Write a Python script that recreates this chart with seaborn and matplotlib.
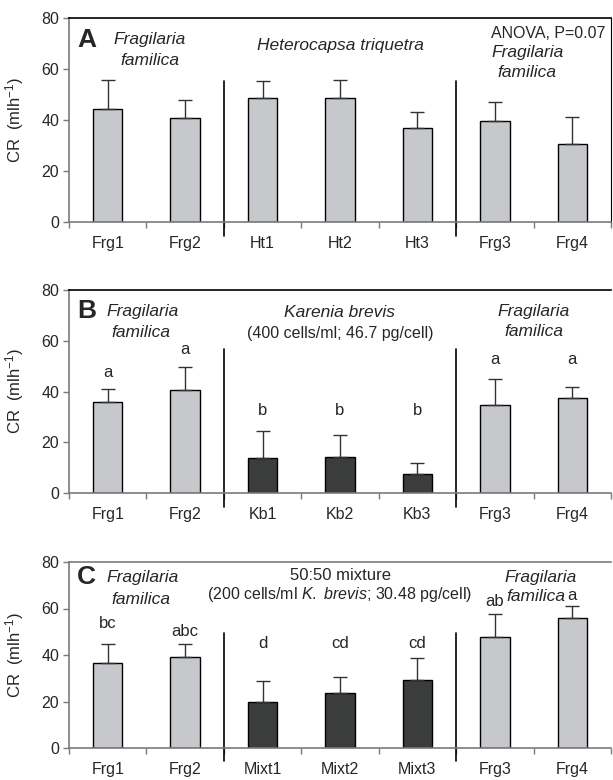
import matplotlib
matplotlib.use("Agg")
import matplotlib.pyplot as plt
import matplotlib.transforms as mtransforms
import seaborn as sns

# panel A
a_labels = ["Frg1", "Frg2", "Ht1", "Ht2", "Ht3", "Frg3", "Frg4"]
a_means = [44.3, 40.9, 48.7, 48.7, 37.0, 39.7, 30.6]
a_err = [11.3, 6.9, 6.5, 6.9, 6.1, 7.5, 10.7]
a_kind = ["light"] * 7

# panel B
b_labels = ["Frg1", "Frg2", "Kb1", "Kb2", "Kb3", "Frg3", "Frg4"]
b_means = [35.9, 40.4, 13.8, 14.3, 7.4, 34.7, 37.6]
b_err = [5.1, 9.2, 10.8, 8.5, 4.4, 10.3, 4.0]
b_letters = ["a", "a", "b", "b", "b", "a", "a"]
b_letter_y = [47.5, 56.6, 32.5, 32.5, 32.5, 52.6, 52.6]
b_kind = ["light", "light", "dark", "dark", "dark", "light", "light"]

# panel C
c_labels = ["Frg1", "Frg2", "Mixt1", "Mixt2", "Mixt3", "Frg3", "Frg4"]
c_means = [36.7, 39.3, 19.9, 23.7, 29.2, 47.9, 55.9]
c_err = [8.0, 5.4, 8.8, 6.8, 9.5, 9.9, 5.0]
c_letters = ["bc", "abc", "d", "cd", "cd", "ab", "a"]
c_letter_y = [53.5, 50.2, 44.9, 44.9, 44.9, 63.1, 65.5]
c_kind = ["light", "light", "dark", "dark", "dark", "light", "light"]

y_ticks = [0, 20, 40, 60, 80]

sns.set_style("ticks")
plt.rcParams["font.family"] = ["Liberation Sans", "DejaVu Sans"]
plt.rcParams["mathtext.fontset"] = "custom"
plt.rcParams["mathtext.rm"] = "Liberation Sans"
plt.rcParams["mathtext.it"] = "Liberation Sans:italic"

LIGHT = "#c6c8cb"
DARK = "#3a3d3c"
GRAY = "#7a7a7a"
FS_IT = 12.5
FS = 11.5

fig = plt.figure(figsize=(6.13, 7.80), dpi=100)
left, width = 69 / 613, 542 / 613
ax_a = fig.add_axes([left, 1 - 222 / 780, width, 204 / 780])
ax_b = fig.add_axes([left, 1 - 493 / 780, width, 203 / 780])
ax_c = fig.add_axes([left, 1 - 748 / 780, width, 186 / 780])


def draw_panel(ax, labels, means, err, kinds, sep_top, top_color, right_spine):
    pal = {lab: (LIGHT if k == "light" else DARK) for lab, k in zip(labels, kinds)}
    sns.barplot(x=labels, y=means, hue=labels, palette=pal, width=0.38,
                edgecolor="black", linewidth=1, saturation=1, legend=False, ax=ax)
    xs = list(range(len(labels)))
    ax.errorbar(xs, means, yerr=[[0] * len(err), err], fmt="none",
                ecolor="#333333", elinewidth=1, capsize=4.7, capthick=1, zorder=1)
    ax.set_xlim(-0.5, len(labels) - 0.5)
    ax.set_ylim(0, 80)
    ax.set_yticks(y_ticks)
    ax.set_xticks(xs)
    ax.set_xticklabels(labels, fontsize=FS)
    ax.set_xticks([i - 0.5 for i in range(len(labels) + 1)], minor=True)
    ax.tick_params(axis="x", which="major", length=0, pad=10)
    ax.tick_params(axis="x", which="minor", length=4, color=GRAY, width=1)
    ax.tick_params(axis="y", length=4, color=GRAY, width=1, labelsize=11.5, pad=3)
    ax.set_xlabel("")
    ax.set_ylabel("CR  (mlh$^{-1}$)", fontsize=12)
    ax.yaxis.set_label_coords(-0.079, 0.5)
    for side in ["left", "bottom"]:
        ax.spines[side].set_color(GRAY)
        ax.spines[side].set_linewidth(1.2)
    ax.spines["top"].set_visible(True)
    ax.spines["top"].set_color(top_color)
    ax.spines["top"].set_linewidth(1.2)
    ax.spines["right"].set_visible(right_spine)
    ax.spines["right"].set_color("black")
    trans = mtransforms.blended_transform_factory(ax.transData, ax.transAxes)
    for xb in [1.5, 4.5]:
        ax.plot([xb, xb], [-0.07, sep_top], color="black", lw=1.2,
                transform=trans, clip_on=False)


draw_panel(ax_a, a_labels, a_means, a_err, a_kind, 0.69, "black", True)
draw_panel(ax_b, b_labels, b_means, b_err, b_kind, 0.71, "black", False)
draw_panel(ax_c, c_labels, c_means, c_err, c_kind, 0.62, GRAY, False)

for ax, letters, ly in [(ax_b, b_letters, b_letter_y), (ax_c, c_letters, c_letter_y)]:
    for i, (t, y) in enumerate(zip(letters, ly)):
        ax.text(i, y, t, ha="center", va="center", fontsize=12)


def note(ax, x, y, s, ha="center", italic=True, size=None):
    ax.text(x, y, s, ha=ha, va="center", fontsize=size or (FS_IT if italic else FS),
            style="italic" if italic else "normal", transform=ax.transAxes)


# panel A annotations
ax_a.text(0.015, 0.89, "A", fontsize=19, fontweight="bold", ha="left", va="center", transform=ax_a.transAxes)
note(ax_a, 0.149, 0.897, "Fragilaria")
note(ax_a, 0.149, 0.794, "familica")
note(ax_a, 0.5, 0.863, "Heterocapsa triquetra")
note(ax_a, 0.779, 0.926, "ANOVA, P=0.07", ha="left", italic=False, size=11.5)
note(ax_a, 0.779, 0.833, "Fragilaria", ha="left")
note(ax_a, 0.79, 0.735, "familica", ha="left")

# panel B annotations
ax_b.text(0.015, 0.897, "B", fontsize=19, fontweight="bold", ha="left", va="center", transform=ax_b.transAxes)
note(ax_b, 0.135, 0.892, "Fragilaria")
note(ax_b, 0.133, 0.793, "familica")
note(ax_b, 0.5, 0.887, "Karenia brevis")
note(ax_b, 0.5, 0.788, "(400 cells/ml; 46.7 pg/cell)", italic=False, size=11.5)
note(ax_b, 0.858, 0.892, "Fragilaria")
note(ax_b, 0.858, 0.798, "familica")

# panel C annotations
ax_c.text(0.015, 0.919, "C", fontsize=19, fontweight="bold", ha="left", va="center", transform=ax_c.transAxes)
note(ax_c, 0.135, 0.919, "Fragilaria")
note(ax_c, 0.133, 0.801, "familica")
note(ax_c, 0.5, 0.925, "50:50 mixture", italic=False, size=12)
note(ax_c, 0.5, 0.823, r"(200 cells/ml $\mathit{K.\ brevis}$; 30.48 pg/cell)", italic=False, size=11.5)
note(ax_c, 0.871, 0.919, "Fragilaria")
note(ax_c, 0.862, 0.812, "familica")

fig.savefig("out.png", dpi=100, facecolor="white")
